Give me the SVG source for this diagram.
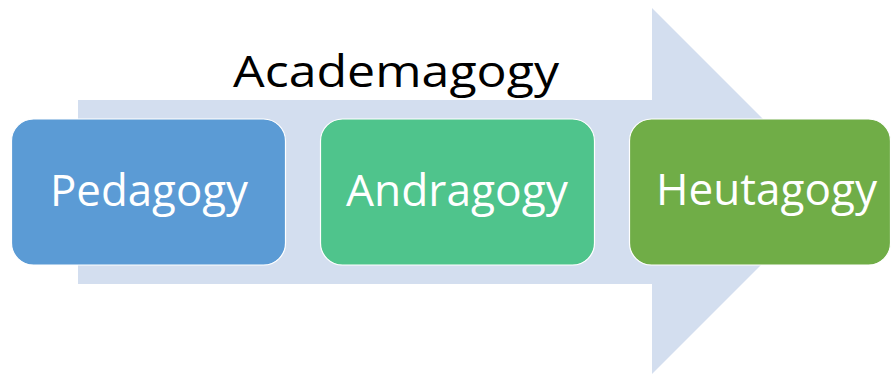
<svg xmlns="http://www.w3.org/2000/svg" width="891" height="375" viewBox="0 0 891 375">
<style>
.box{stroke:#ffffff;stroke-width:1.2}
.lbl{font-family:"Open Sans","Liberation Sans",sans-serif;font-size:44px;fill:#ffffff}
.title{font-family:"Open Sans","Liberation Sans",sans-serif;font-size:44px;fill:#000000}
</style>
<rect width="891" height="375" fill="#ffffff"/>
<g id="arrow">
<polygon points="78,100 652,100 652,8 835,191 652,374 652,284 78,284" fill="#D3DEEF"/>
</g>
<g id="title">
<text class="title" x="233" y="87" textLength="326" lengthAdjust="spacingAndGlyphs">Academagogy</text>
</g>
<g id="pedagogy">
<rect class="box" x="11.5" y="119" width="274" height="146" rx="22" fill="#5B9BD5"/>
<text class="lbl" x="50" y="206" textLength="198" lengthAdjust="spacingAndGlyphs">Pedagogy</text>
</g>
<g id="andragogy">
<rect class="box" x="320.5" y="119" width="274" height="146" rx="22" fill="#4FC48C"/>
<text class="lbl" x="346" y="206" textLength="222" lengthAdjust="spacingAndGlyphs">Andragogy</text>
</g>
<g id="heutagogy">
<rect class="box" x="629.5" y="119" width="261" height="146" rx="22" fill="#70AD47"/>
<text class="lbl" x="656" y="205" textLength="221" lengthAdjust="spacingAndGlyphs">Heutagogy</text>
</g>
<g id="connectors"></g>
</svg>
